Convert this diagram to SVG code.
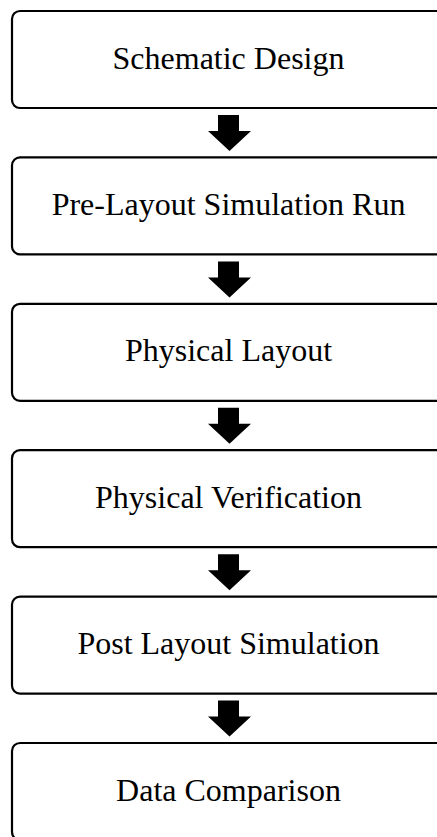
<svg xmlns="http://www.w3.org/2000/svg" width="437" height="837" viewBox="0 0 437 837">
<style>
.box{fill:#fff;stroke:#000;stroke-width:2.2}
.lbl{font-family:"Liberation Serif","Times New Roman",serif;font-size:32px;fill:#000;text-anchor:middle}
.arr{fill:#000}
</style>
<rect width="437" height="837" fill="#fff"/>
<g id="n1"><rect class="box" x="12" y="11" width="434" height="97" rx="8"/><text class="lbl" x="228.5" y="68.5">Schematic Design</text></g>
<g id="n2"><rect class="box" x="12" y="157.4" width="434" height="97" rx="8"/><text class="lbl" x="228.5" y="214.9">Pre-Layout Simulation Run</text></g>
<g id="n3"><rect class="box" x="12" y="303.8" width="434" height="97" rx="8"/><text class="lbl" x="228.5" y="361.3">Physical Layout</text></g>
<g id="n4"><rect class="box" x="12" y="450.2" width="434" height="97" rx="8"/><text class="lbl" x="228.5" y="507.7">Physical Verification</text></g>
<g id="n5"><rect class="box" x="12" y="596.6" width="434" height="97" rx="8"/><text class="lbl" x="228.5" y="654.1">Post Layout Simulation</text></g>
<g id="n6"><rect class="box" x="12" y="743" width="434" height="97" rx="8"/><text class="lbl" x="228.5" y="800.5">Data Comparison</text></g>
<g id="connectors">
<path class="arr" transform="translate(0,0)" d="M218,115H239V131H251L229.5,151L208,131H218Z"/>
<path class="arr" transform="translate(0,146.4)" d="M218,115H239V131H251L229.5,151L208,131H218Z"/>
<path class="arr" transform="translate(0,292.8)" d="M218,115H239V131H251L229.5,151L208,131H218Z"/>
<path class="arr" transform="translate(0,439.2)" d="M218,115H239V131H251L229.5,151L208,131H218Z"/>
<path class="arr" transform="translate(0,585.6)" d="M218,115H239V131H251L229.5,151L208,131H218Z"/>
</g>
</svg>
